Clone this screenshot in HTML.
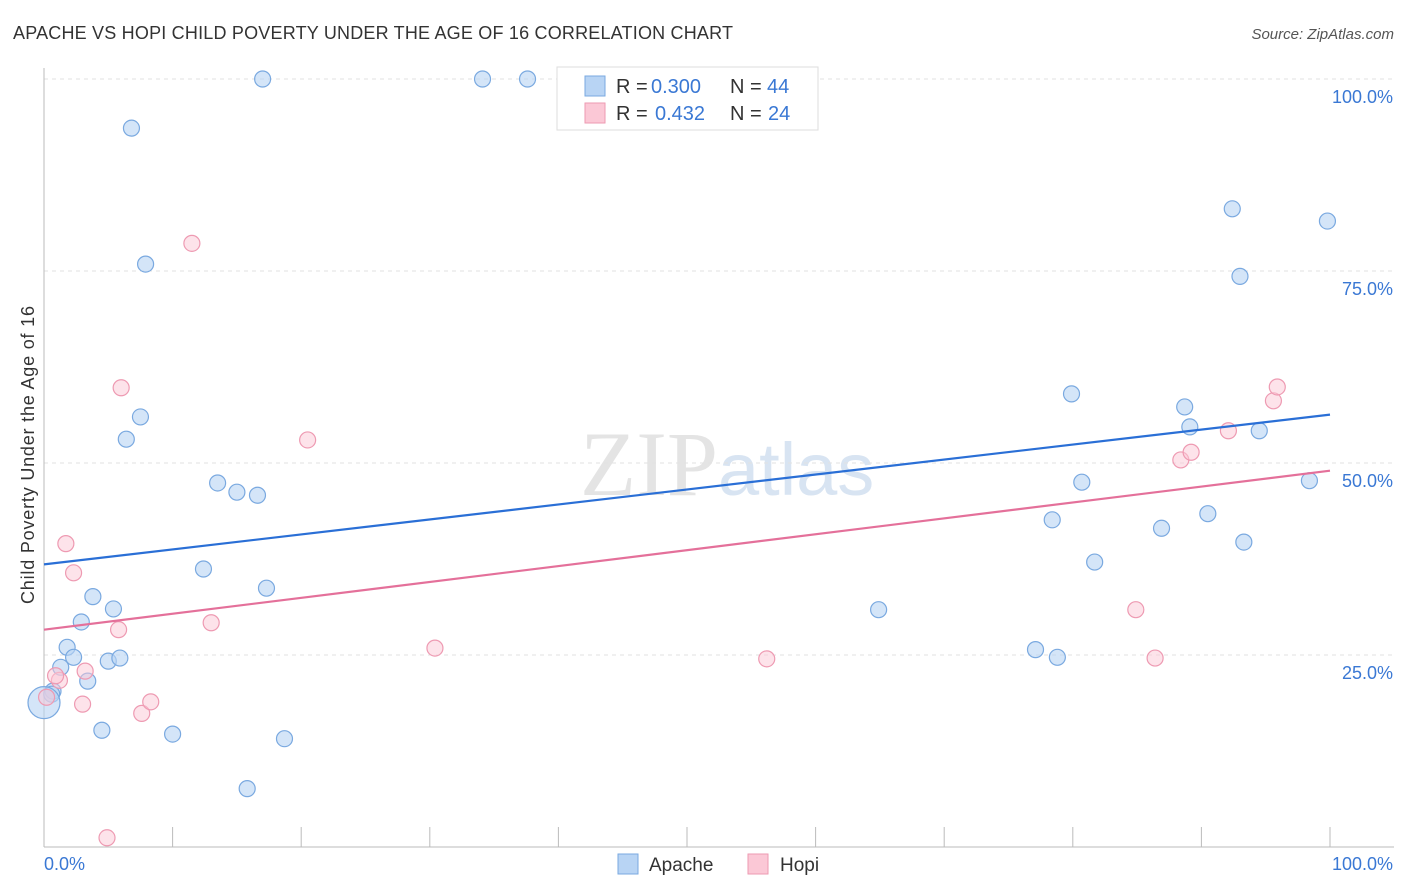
<!DOCTYPE html>
<html><head><meta charset="utf-8"><style>
body{margin:0;background:#fff;font-family:"Liberation Sans",sans-serif;}
svg{display:block}
</style></head><body>
<svg id="c" width="1406" height="892" xmlns="http://www.w3.org/2000/svg">
<text x="13" y="39" font-size="18" fill="#333" textLength="720">APACHE VS HOPI CHILD POVERTY UNDER THE AGE OF 16 CORRELATION CHART</text>
<text x="1394" y="39" font-size="15" fill="#555" font-style="italic" text-anchor="end">Source: ZipAtlas.com</text>
<text x="34" y="455" font-size="18" fill="#333" text-anchor="middle" textLength="298" transform="rotate(-90 34 455)">Child Poverty Under the Age of 16</text>
<text x="718" y="495" font-size="92" fill="#e4e4e4" text-anchor="end" font-family="Liberation Serif">ZIP</text>
<text x="718" y="495" font-size="74" fill="#d8e4f2">atlas</text>
<g id="grid"></g><g id="pts"></g><g id="trend"></g>
<g>
<rect x="557" y="67" width="261" height="63" fill="#fff" stroke="#ddd"/>
<rect x="585" y="76" width="20" height="20" fill="#b8d4f4" stroke="#7aa9e0"/>
<rect x="585" y="103" width="20" height="20" fill="#fbc8d6" stroke="#ee9ab2"/>
<text x="616" y="93" font-size="20" fill="#333">R =</text>
<text x="651" y="93" font-size="20" fill="#3a78d4">0.300</text>
<text x="730" y="93" font-size="20" fill="#333">N =</text>
<text x="767" y="93" font-size="20" fill="#3a78d4">44</text>
<text x="616" y="120" font-size="20" fill="#333">R =</text>
<text x="655" y="120" font-size="20" fill="#3a78d4">0.432</text>
<text x="730" y="120" font-size="20" fill="#333">N =</text>
<text x="768" y="120" font-size="20" fill="#3a78d4">24</text>
</g>
<g>
<rect x="618" y="854" width="20" height="20" fill="#b8d4f4" stroke="#7aa9e0"/>
<text x="649" y="871" font-size="19" fill="#333">Apache</text>
<rect x="748" y="854" width="20" height="20" fill="#fbc8d6" stroke="#ee9ab2"/>
<text x="780" y="871" font-size="19" fill="#333">Hopi</text>
</g>
<text x="44" y="870" font-size="18" fill="#3a78d4">0.0%</text>
<text x="1393" y="870" font-size="18" fill="#3a78d4" text-anchor="end">100.0%</text>
</svg>
<script>
const apacheX=[17.0,34.1,37.6,6.8,7.9,7.5,6.4,13.5,15.0,16.6,12.4,17.3,3.8,5.4,2.9,1.8,2.3,1.3,5.0,5.9,3.4,0.7,0.6,0,4.5,10.0,18.7,15.8,64.9,77.1,78.8,79.9,80.7,78.4,81.7,86.9,88.7,89.1,90.5,92.4,93.0,94.5,93.3,98.4,99.8];
const apacheY=[100,100,100,93.6,75.9,56.0,53.1,47.4,46.2,45.8,36.2,33.7,32.6,31.0,29.3,26.0,24.7,23.4,24.2,24.6,21.6,20.3,19.9,18.8,15.2,14.7,14.1,7.6,30.9,25.7,24.7,59.0,47.5,42.6,37.1,41.5,57.3,54.7,43.4,83.1,74.3,54.2,39.7,47.7,81.5];
const hopiX=[11.5,6.0,20.5,1.7,2.3,5.8,13.0,3.2,1.2,0.9,3.0,7.6,8.3,0.2,4.9,30.4,56.2,84.9,86.4,88.4,89.2,92.1,95.6,95.9];
const hopiY=[78.6,59.8,53.0,39.5,35.7,28.3,29.2,22.9,21.7,22.3,18.6,17.4,18.9,19.5,1.2,25.9,24.5,30.9,24.6,50.4,51.4,54.2,58.1,59.9];
const trendApache=[36.8,56.3];
const trendHopi=[28.3,49.0];
const yTicks=[25,50,75,100];
const yTickLabels=["25.0%","50.0%","75.0%","100.0%"];
const xTicks=[0,10,20,30,40,50,60,70,80,90,100];
const sx=v=>44+v*12.86, sy=v=>847-v*7.68;
const NS="http://www.w3.org/2000/svg";
function mk(p,t,a){const e=document.createElementNS(NS,t);for(const k in a)e.setAttribute(k,a[k]);p.appendChild(e);return e;}
const g=document.getElementById('grid');
yTicks.forEach((t,i)=>{
 const l=mk(g,'line',{x1:44,x2:1394,y1:sy(t),y2:sy(t),stroke:'#e2e2e2','stroke-dasharray':'4,4'});
 
 
 const tx=mk(g,'text',{x:1393,y:sy(t)+24,'font-size':18,fill:'#3a78d4','text-anchor':'end'});
 tx.textContent=yTickLabels[i];
 
 
});
const ax=mk(g,'line',{x1:44,x2:1394,y1:847,y2:847,stroke:'#bbb'});


const ay=mk(g,'line',{x1:44,x2:44,y1:68,y2:847,stroke:'#bbb'});


xTicks.forEach(t=>{const l=mk(g,'line',{x1:sx(t),x2:sx(t),y1:827,y2:847,stroke:'#bbb'});
 
 });
const P=document.getElementById('pts');
apacheX.forEach((x,i)=>{const r=(x===0)?16:8;const c=mk(P,'circle',{cx:sx(x),cy:sy(apacheY[i]),r:r,fill:'rgba(184,212,244,0.6)',stroke:'#7aa9e0','stroke-width':1.2});
 
 });
hopiX.forEach((x,i)=>{const c=mk(P,'circle',{cx:sx(x),cy:sy(hopiY[i]),r:8,fill:'rgba(251,200,214,0.5)',stroke:'#ee9ab2','stroke-width':1.2});
 
 });
const T=document.getElementById('trend');
const tb=mk(T,'line',{x1:sx(0),x2:sx(100),y1:sy(trendApache[0]),y2:sy(trendApache[1]),stroke:'#2a6fd6','stroke-width':2.2});


const tp=mk(T,'line',{x1:sx(0),x2:sx(100),y1:sy(trendHopi[0]),y2:sy(trendHopi[1]),stroke:'#e4709a','stroke-width':2.2});


</script>
</body></html>
